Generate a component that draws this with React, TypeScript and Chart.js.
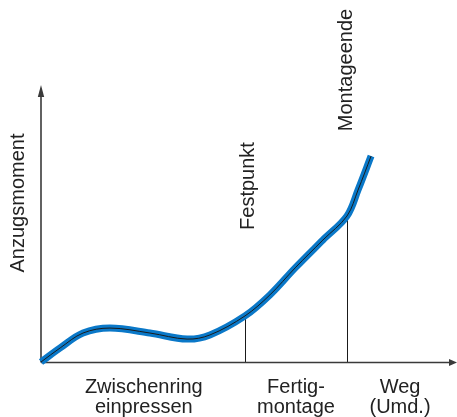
import React, { useEffect, useRef } from "react";
import { Chart, registerables } from "chart.js";

Chart.register(...registerables);

// Weg (Umdrehungen) and Anzugsmoment (relative units)
const weg = [0, 0.47, 1.03, 1.69, 2.67, 3.58, 4.14, 5.0, 5.61, 6.23, 6.91, 7.5, 7.77, 8.09];
const anzugsmoment = [0, 0.51, 1.05, 1.23, 1.05, 0.83, 0.98, 1.67, 2.43, 3.41, 4.42, 5.29, 6.23, 7.46];

const markerLabels = ["Festpunkt", "Montageende"];
const markerX = [5.0, 7.5];

const phaseLabels = [["Zwischenring", "einpressen"], ["Fertig-", "montage"], ["Weg", "(Umd.)"]];
const phaseX = [2.52, 6.25, 8.8];

const yAxisTitle = "Anzugsmoment";

const FONT = '20px "Liberation Sans", Arial, sans-serif';
const INK = "#222222";
const AXIS = "#3a3a3a";
const BLUE = "#0a78c8";

const decorPlugin = {
  id: "decor",
  beforeDatasetsDraw(chart: any) {
    const { ctx, chartArea, scales } = chart;
    const xs = scales.x;
    const ys = scales.y;
    const x0 = xs.getPixelForValue(0);
    const y0 = ys.getPixelForValue(0);
    ctx.save();
    // marker vertical lines
    ctx.strokeStyle = "#1a1a1a";
    ctx.lineWidth = 1;
    markerX.forEach((mx) => {
      const idx = weg.indexOf(mx);
      const top = ys.getPixelForValue(anzugsmoment[idx]);
      const px = Math.round(xs.getPixelForValue(mx)) + 0.5;
      ctx.beginPath();
      ctx.moveTo(px, y0);
      ctx.lineTo(px, top);
      ctx.stroke();
    });
    // axes
    ctx.strokeStyle = AXIS;
    ctx.fillStyle = AXIS;
    ctx.lineWidth = 1.6;
    const yTop = chartArea.top;
    ctx.beginPath();
    ctx.moveTo(x0, y0 + 0.5);
    ctx.lineTo(x0, yTop + 8);
    ctx.stroke();
    ctx.beginPath();
    ctx.moveTo(x0, yTop - 1);
    ctx.lineTo(x0 - 3.2, yTop + 11);
    ctx.lineTo(x0 + 3.2, yTop + 11);
    ctx.closePath();
    ctx.fill();
    const xRight = chart.width;
    ctx.beginPath();
    ctx.moveTo(x0, y0 + 0.5);
    ctx.lineTo(xRight - 6, y0 + 0.5);
    ctx.stroke();
    ctx.beginPath();
    ctx.moveTo(xRight, y0 + 0.5);
    ctx.lineTo(xRight - 8, y0 - 3);
    ctx.lineTo(xRight - 8, y0 + 4);
    ctx.closePath();
    ctx.fill();
    ctx.restore();
  },
  afterDraw(chart: any) {
    const { ctx, scales } = chart;
    const xs = scales.x;
    const ys = scales.y;
    const y0 = ys.getPixelForValue(0);
    ctx.save();
    ctx.font = FONT;
    ctx.fillStyle = INK;
    // bottom phase labels
    ctx.textAlign = "center";
    ctx.textBaseline = "middle";
    phaseLabels.forEach((lines, i) => {
      const px = xs.getPixelForValue(phaseX[i]);
      lines.forEach((t, j) => {
        ctx.fillText(t, px, y0 + 25 + j * 20);
      });
    });
    // rotated marker labels
    const markerTextCenters = [186, 70];
    markerLabels.forEach((t, i) => {
      const px = xs.getPixelForValue(markerX[i]) + (i === 0 ? 3 : -1);
      ctx.save();
      ctx.translate(px, markerTextCenters[i]);
      ctx.rotate(-Math.PI / 2);
      ctx.fillText(t, 0, 0);
      ctx.restore();
    });
    // y axis title
    ctx.save();
    ctx.translate(18, 203);
    ctx.rotate(-Math.PI / 2);
    ctx.fillText(yAxisTitle, 0, 0);
    ctx.restore();
    ctx.restore();
  },
};

export default function App() {
  const ref = useRef<HTMLCanvasElement>(null);
  useEffect(() => {
    if (!ref.current) return;
    const points = weg.map((x, i) => ({ x, y: anzugsmoment[i] }));
    const chart = new Chart(ref.current, {
      type: "line",
      data: {
        datasets: [
          {
            data: points,
            borderColor: BLUE,
            borderWidth: 7,
            pointRadius: 0,
            tension: 0.35,
            fill: false,
            clip: false,
            order: 2,
          } as any,
          {
            data: points,
            borderColor: "#1a1a1a",
            borderWidth: 1,
            pointRadius: 0,
            tension: 0.35,
            fill: false,
            clip: false,
            order: 1,
          } as any,
        ],
      },
      options: {
        responsive: false,
        animation: false,
        layout: { padding: { left: 41, right: 8, top: 86, bottom: 55 } },
        plugins: { legend: { display: false }, tooltip: { enabled: false } },
        scales: {
          x: { type: "linear", min: 0, max: 10, display: false },
          y: { type: "linear", min: 0, max: 10, display: false },
        },
      },
      plugins: [decorPlugin],
    });
    return () => chart.destroy();
  }, []);
  return (
    <div style={{ position: "fixed", left: 0, top: 0, width: 457, height: 417, background: "#fff" }}>
      <canvas ref={ref} width={457} height={417} style={{ display: "block" }} />
    </div>
  );
}
